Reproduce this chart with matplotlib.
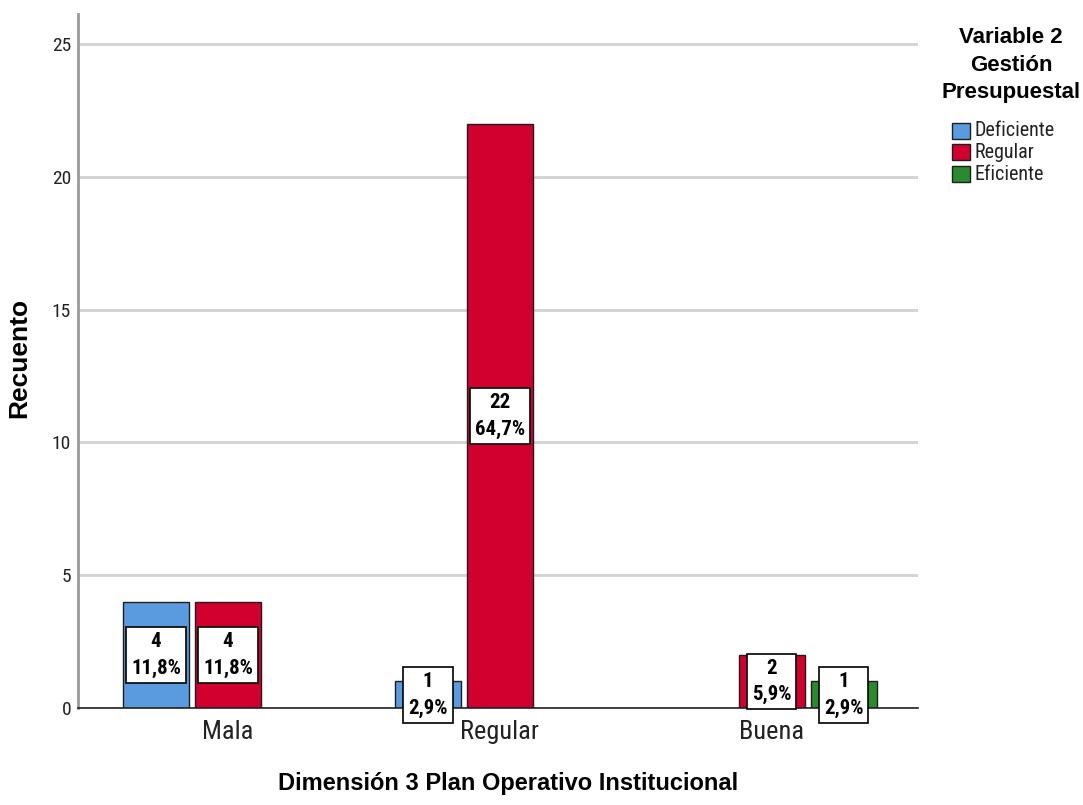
import numpy as np
import matplotlib.pyplot as plt
from matplotlib.patches import Rectangle

# data
categories = ["Mala", "Regular", "Buena"]
series_names = ["Deficiente", "Regular", "Eficiente"]
series_colors = ["#5A9BE0", "#D2002E", "#2A8A30"]
counts_deficiente = [4, 1, 0]
counts_regular = [4, 22, 2]
counts_eficiente = [0, 0, 1]
pct_deficiente = ["11,8%", "2,9%", ""]
pct_regular = ["11,8%", "64,7%", "5,9%"]
pct_eficiente = ["", "", "2,9%"]
yticks = [0, 5, 10, 15, 20, 25]

counts = [counts_deficiente, counts_regular, counts_eficiente]
pcts = [pct_deficiente, pct_regular, pct_eficiente]

narrow = ["Roboto Condensed", "DejaVu Sans"]
sans = ["Liberation Sans", "DejaVu Sans"]

W, H = 1083, 805
fig = plt.figure(figsize=(W / 100, H / 100), dpi=100)
ax = fig.add_axes([78 / W, 1 - 708 / H, (918 - 78) / W, (708 - 14) / H])

x = np.arange(len(categories))
width = 0.243
offset = 0.265

for i, name in enumerate(series_names):
    for j in range(len(categories)):
        v = counts[i][j]
        if v == 0:
            continue  # SPSS leaves empty cells out
        xpos = x[j] + (i - 1) * offset
        ax.bar(xpos, v, width=width, color=series_colors[i],
               edgecolor="#1e1e1e", linewidth=1.0, zorder=3)
        ax.text(xpos, v / 2, f"{v}\n{pcts[i][j]}", ha="center", va="center",
                family=narrow, fontweight="bold", fontsize=15, linespacing=1.5,
                zorder=5,
                bbox=dict(boxstyle="square,pad=0.24", fc="white", ec="black", lw=1.2))

ax.set_xlim(-0.552, 2.539)
ax.set_ylim(0, 26.13)
ax.set_yticks(yticks)
ax.set_xticks(x)
ax.set_xticklabels(categories, family=narrow, fontsize=19, color="#222222")
ax.set_yticklabels([str(t) for t in yticks], family=narrow, fontsize=14, color="#222222")
ax.tick_params(axis="x", length=0, pad=8.5)
ax.tick_params(axis="y", length=0, pad=5)

ax.yaxis.grid(True, color="#d2d2d2", linewidth=2, zorder=0)
ax.set_axisbelow(True)
for s in ["top", "right"]:
    ax.spines[s].set_visible(False)
ax.spines["left"].set_color("#9a9a9a")
ax.spines["left"].set_linewidth(2)
ax.spines["bottom"].set_color("#222222")
ax.spines["bottom"].set_linewidth(1.2)
ax.spines["bottom"].set_zorder(4)

# axis titles
fig.text(19 / W, 1 - 358 / H, "Recuento", rotation=90, ha="center", va="center",
         family=sans, fontweight="bold", fontsize=19)
fig.text(508 / W, 1 - 790 / H, "Dimensión 3 Plan Operativo Institucional",
         ha="center", va="baseline", family=sans, fontweight="bold", fontsize=17)

# legend drawn by hand, SPSS style
fig.text(1011 / W, 1 - 27 / H, "Variable 2\nGestión\nPresupuestal", ha="center", va="top",
         family=sans, fontweight="bold", fontsize=16, linespacing=1.42)
row_y = [131, 152, 174]
for name, col, ry in zip(series_names, series_colors, row_y):
    fig.patches.append(Rectangle((952 / W, 1 - (ry + 8) / H), 18 / W, 16 / H,
                                 transform=fig.transFigure, facecolor=col,
                                 edgecolor="#1e1e1e", linewidth=1.0))
    fig.text(974 / W, 1 - ry / H, name, ha="left", va="center",
             family=narrow, fontsize=14.5, color="#222222")

fig.savefig("out.png", dpi=100)
